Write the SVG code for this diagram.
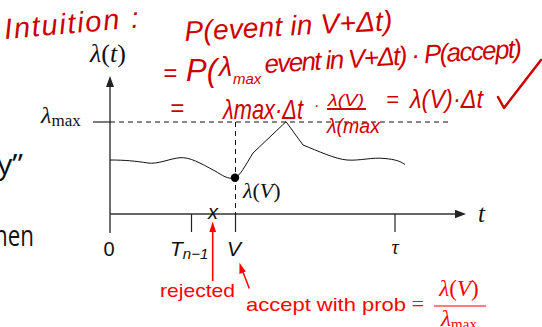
<svg xmlns="http://www.w3.org/2000/svg" width="542" height="327" viewBox="0 0 542 327">
<defs>
<style>
.ax{stroke:#333;stroke-width:1.4;fill:none}
.tk{stroke:#222;stroke-width:1.2;fill:none}
.dash{stroke:#111;stroke-width:1;stroke-dasharray:5,4;fill:none}
.crv{stroke:#111;stroke-width:1;fill:none}
.serif{font-family:"Liberation Serif","DejaVu Serif",serif;fill:#111}
.sans{font-family:"Liberation Sans",Arial,sans-serif;fill:#111}
.os{font-family:"Open Sans","DejaVu Sans",sans-serif;fill:#111}
.red{fill:#ff0000}
.hw{font-family:"Liberation Sans",Arial,sans-serif;font-style:italic;fill:#cc0000}
.it{font-style:italic}
</style>
</defs>
<rect width="542" height="327" fill="#fff"/>

<g id="slide-text">
<text class="os" x="-3" y="174" font-size="28" textLength="26" lengthAdjust="spacingAndGlyphs">y”</text>
<text class="os" x="-6" y="246" font-size="30" textLength="40" lengthAdjust="spacingAndGlyphs">hen</text>
</g>

<g id="axes">
<line class="ax" x1="110" y1="233" x2="110" y2="86"/>
<polygon points="110,76 106,87 114,87" fill="#222"/>
<line class="ax" x1="110" y1="214" x2="456" y2="214"/>
<polygon points="466,214 455,209.8 455,218.2" fill="#222"/>
<line class="tk" x1="93" y1="122" x2="110" y2="122"/>
<line class="tk" x1="191.5" y1="214" x2="191.5" y2="232"/>
<line class="tk" x1="235.5" y1="214" x2="235.5" y2="232"/>
<line class="tk" x1="395" y1="214" x2="395" y2="232"/>
</g>

<g id="guides">
<line class="dash" x1="110" y1="122" x2="450" y2="122"/>
<line class="dash" x1="235.5" y1="122" x2="235.5" y2="214"/>
</g>

<g id="curve">
<path class="crv" d="M110,160 C125,160 135,161 148,163 C158,164.5 170,158.5 180,157.7 C190,157 200,163 215,171 C222,175 228,180 235,177.7 C240,176 245,166 253,153 L286,121.7 L303,145 C318,151 335,159 347,160 C360,161 372,157 385,158.5 C395,159.5 400,161 405,164.5"/>
<circle cx="235" cy="177.7" r="4.2" fill="#000"/>
</g>

<g id="labels">
<text class="serif" x="90" y="62" font-size="26"><tspan class="it">λ</tspan>(<tspan class="it">t</tspan>)</text>
<text class="serif" x="41" y="123" font-size="24"><tspan class="it">λ</tspan><tspan font-size="17" dy="3">max</tspan></text>
<text class="serif" x="243" y="198" font-size="22"><tspan class="it">λ</tspan>(<tspan class="it">V</tspan>)</text>
<text class="serif it" x="478" y="222" font-size="25">t</text>
<text class="sans" x="109" y="256" font-size="20" text-anchor="middle">0</text>
<text class="sans it" x="170" y="256" font-size="21">T<tspan font-size="15" dy="2.5">n−1</tspan></text>
<text class="sans it" x="234" y="256" font-size="21" text-anchor="middle">V</text>
<text class="serif it" x="395" y="254" font-size="20" text-anchor="middle">τ</text>
<text class="sans it" x="213" y="219" font-size="20" text-anchor="middle">x</text>
</g>

<g id="annotations">
<line x1="212.7" y1="281" x2="212.7" y2="230" stroke="#ff0000" stroke-width="1.6"/>
<polygon points="212.7,221.5 209.3,232 216.1,232" fill="#ff0000"/>
<line x1="249.3" y1="288.5" x2="242.6" y2="271" stroke="#ff0000" stroke-width="1.5"/>
<polygon points="239.5,262.7 245.8,271.6 239.4,274.1" fill="#ff0000"/>
<text class="sans red" x="160" y="297" font-size="19" textLength="75" lengthAdjust="spacingAndGlyphs">rejected</text>
<text class="sans red" x="246" y="311" font-size="19" textLength="160" lengthAdjust="spacingAndGlyphs">accept with prob</text>
<text class="serif red" x="418" y="311" font-size="22" text-anchor="middle">=</text>
<text class="serif red" x="459" y="296" font-size="23" text-anchor="middle"><tspan class="it">λ</tspan>(<tspan class="it">V</tspan>)</text>
<line x1="434" y1="306" x2="486" y2="306" stroke="#ff0000" stroke-width="1"/>
<text class="serif red" x="459" y="326" font-size="23" text-anchor="middle"><tspan class="it">λ</tspan><tspan font-size="15" dy="3">max</tspan></text>
</g>

<g id="handwriting">
<text class="hw" x="5" y="39" font-size="29" textLength="135" lengthAdjust="spacing" transform="rotate(-5 5 39)">Intuition :</text>
<text class="hw" x="185" y="41" font-size="28" textLength="208" lengthAdjust="spacing" transform="rotate(-3 185 41)">P(event in V+Δt)</text>
<text class="hw" x="163" y="81" font-size="24">=</text>
<text class="hw" x="186" y="81" font-size="31">P(</text>
<text class="hw" x="219" y="76" font-size="27">λ</text>
<text class="hw" x="233" y="84" font-size="15">max</text>
<text class="hw" x="265" y="73" font-size="26" textLength="258" lengthAdjust="spacing" transform="rotate(-3.5 265 73)">event in V+Δt) · P(accept)</text>
<text class="hw" x="170" y="116" font-size="24">=</text>
<text class="hw" x="223" y="119" font-size="28" textLength="80" lengthAdjust="spacingAndGlyphs">λmax·Δt</text>
<text class="hw" x="314" y="111" font-size="16">·</text>
<text class="hw" x="328" y="106" font-size="17" textLength="36" lengthAdjust="spacingAndGlyphs">λ(V)</text>
<line x1="327" y1="109" x2="366" y2="109" stroke="#cc0000" stroke-width="2"/>
<text class="hw" x="327" y="133" font-size="20" textLength="53" lengthAdjust="spacingAndGlyphs">λ(max</text>
<text class="hw" x="386" y="107" font-size="22">=</text>
<text class="hw" x="410" y="108" font-size="26" textLength="73" lengthAdjust="spacingAndGlyphs">λ(V)·Δt</text>
<path d="M498,97 L504,108 L541,60" fill="none" stroke="#cc0000" stroke-width="2.5" stroke-linecap="round" stroke-linejoin="round"/>
</g>
</svg>
